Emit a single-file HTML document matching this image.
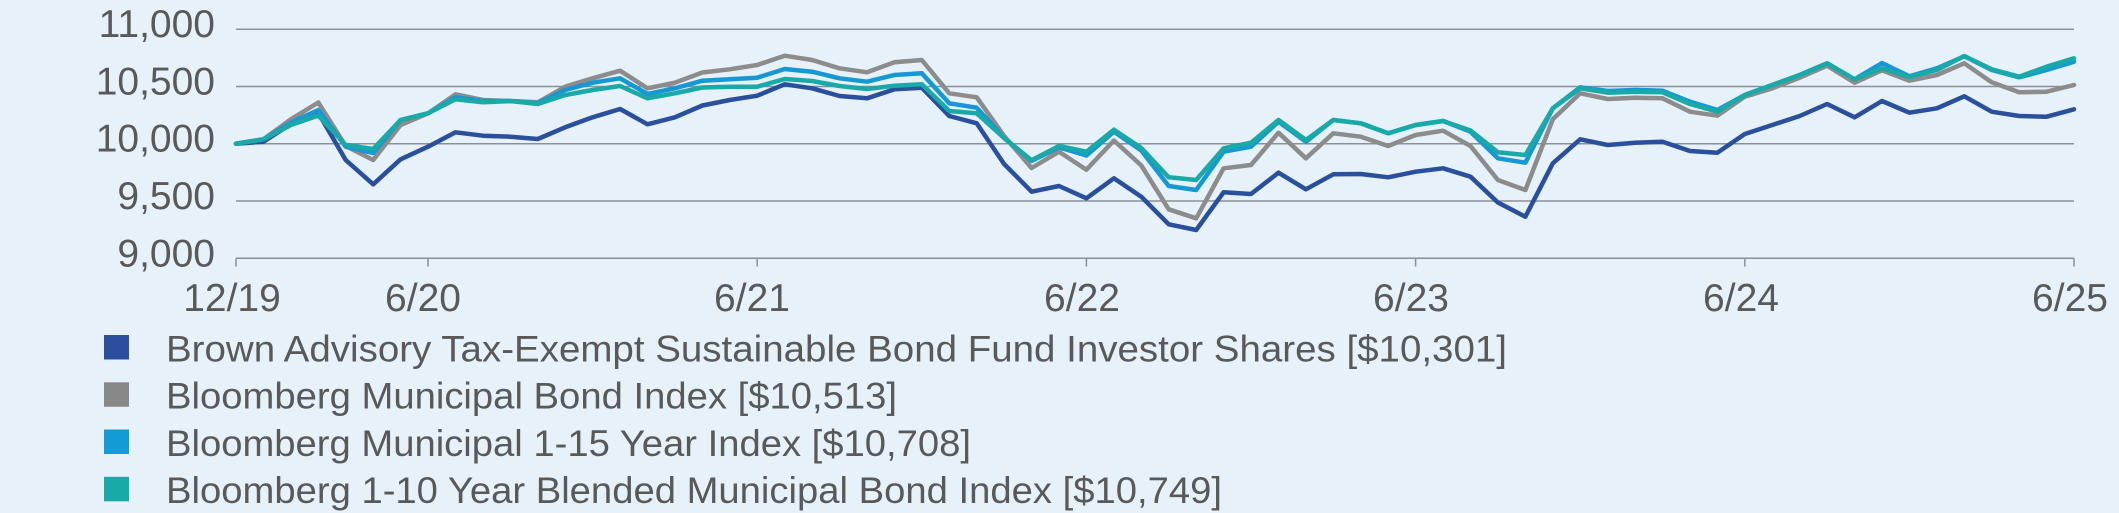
<!DOCTYPE html>
<html>
<head>
<meta charset="utf-8">
<style>
  html, body { margin: 0; padding: 0; background: #e6f1fa; }
  body { width: 2119px; height: 513px; overflow: hidden; }
  svg { display: block; }
  text { font-family: "Liberation Sans", "DejaVu Sans", sans-serif; fill: #595959; }
</style>
</head>
<body>
<svg width="2119" height="513" viewBox="0 0 2119 513" xmlns="http://www.w3.org/2000/svg">
  <rect x="0" y="0" width="2119" height="513" fill="#e6f1fa"/>

  <!-- gridlines -->
  <g stroke="#8a9098" stroke-width="1.5" fill="none">
    <line x1="236" y1="29.3" x2="2074" y2="29.3"/>
    <line x1="236" y1="86.5" x2="2074" y2="86.5"/>
    <line x1="236" y1="143.7" x2="2074" y2="143.7"/>
    <line x1="236" y1="201" x2="2074" y2="201"/>
    <line x1="236" y1="258.3" x2="2074" y2="258.3"/>
    <!-- ticks -->
    <line x1="236" y1="258.3" x2="236" y2="266.5"/>
    <line x1="428" y1="258.3" x2="428" y2="266.5"/>
    <line x1="757.2" y1="258.3" x2="757.2" y2="266.5"/>
    <line x1="1086.4" y1="258.3" x2="1086.4" y2="266.5"/>
    <line x1="1415.6" y1="258.3" x2="1415.6" y2="266.5"/>
    <line x1="1744.8" y1="258.3" x2="1744.8" y2="266.5"/>
    <line x1="2074" y1="258.3" x2="2074" y2="266.5"/>
  </g>

  <!-- y labels -->
  <g font-size="39" text-anchor="end">
    <text x="215" y="37">11,000</text>
    <text x="215" y="94.5">10,500</text>
    <text x="215" y="151.7">10,000</text>
    <text x="215" y="209">9,500</text>
    <text x="215" y="266.5">9,000</text>
  </g>

  <!-- x labels -->
  <g font-size="39" text-anchor="middle">
    <text x="232" y="311">12/19</text>
    <text x="423" y="311">6/20</text>
    <text x="752" y="311">6/21</text>
    <text x="1082" y="311">6/22</text>
    <text x="1411" y="311">6/23</text>
    <text x="1741" y="311">6/24</text>
    <text x="2070" y="311">6/25</text>
  </g>

  <g fill="none" stroke-width="4.5" stroke-linejoin="round" stroke-linecap="round">
    <!-- Navy: Brown Advisory -->
    <polyline stroke="#2a4f9c" points="236,143.7 263.4,141.7 290.9,124 318.3,113 345.7,160 373.2,184.3 400.6,159.3 428,146.7 455.5,132.3 482.9,135.7 510.3,136.7 537.8,139 565.2,127.3 592.6,117.3 620.1,109 647.5,124.3 674.9,117.3 702.4,105.5 729.8,100 757.2,95.7 784.7,84.3 812.1,88.3 839.5,96 867,98.3 894.4,89.3 921.8,87.7 949.3,116 976.7,123.3 1004.1,164 1031.6,191.7 1059,186 1086.4,198.3 1113.9,178.3 1141.3,196.7 1168.7,224.3 1196.2,230 1223.6,192.3 1251,194 1278.5,172.7 1305.9,189.3 1333.3,174.3 1360.8,174 1388.2,177.3 1415.6,171.7 1443.1,168.3 1470.5,176.7 1497.9,202.5 1525.4,216.7 1552.8,163.3 1580.2,139.3 1607.7,145 1635.1,142.7 1662.5,141.7 1690,151 1717.4,152.7 1744.8,134 1772.3,125 1799.7,116 1827.1,104 1854.6,117.3 1882,101 1909.4,112.7 1936.9,108.3 1964.3,96.3 1991.7,111.7 2019.2,116 2046.6,116.7 2074,109.3"/>
    <!-- Gray: Bloomberg Municipal Bond Index -->
    <polyline stroke="#8c8c8c" points="236,143.7 263.4,139.3 290.9,119.3 318.3,102.5 345.7,146 373.2,160 400.6,125 428,113.3 455.5,94.3 482.9,100 510.3,101 537.8,102.3 565.2,86.7 592.6,78.3 620.1,70.7 647.5,88.3 674.9,82.7 702.4,72.5 729.8,69.3 757.2,65 784.7,55.7 812.1,60 839.5,68.3 867,72.3 894.4,62.3 921.8,60 949.3,93.3 976.7,97.3 1004.1,136 1031.6,168 1059,151.7 1086.4,169.7 1113.9,140.5 1141.3,165.5 1168.7,209.3 1196.2,218.3 1223.6,168.3 1251,165 1278.5,132.7 1305.9,158.3 1333.3,133.3 1360.8,136.7 1388.2,146 1415.6,135 1443.1,130.7 1470.5,146 1497.9,180 1525.4,190 1552.8,119.3 1580.2,93.3 1607.7,99 1635.1,97.7 1662.5,98.3 1690,111.7 1717.4,115.7 1744.8,96.7 1772.3,88.3 1799.7,77.7 1827.1,65.7 1854.6,82.7 1882,70.3 1909.4,80.7 1936.9,75 1964.3,63.3 1991.7,82.3 2019.2,92.3 2046.6,91.7 2074,85"/>
    <!-- Blue: Bloomberg Municipal 1-15 Year -->
    <polyline stroke="#1598d4" points="236,143.7 263.4,139.3 290.9,122.7 318.3,110 345.7,146.7 373.2,153 400.6,120 428,113.3 455.5,97.3 482.9,101 510.3,101 537.8,103.3 565.2,90 592.6,82.7 620.1,78.3 647.5,94 674.9,88.3 702.4,80.7 729.8,79.3 757.2,77.7 784.7,69 812.1,71.7 839.5,78.3 867,81.7 894.4,75 921.8,73.3 949.3,103.3 976.7,107.7 1004.1,138 1031.6,161 1059,147.3 1086.4,155.5 1113.9,131.7 1141.3,150.5 1168.7,186 1196.2,190 1223.6,151.7 1251,146.7 1278.5,121.7 1305.9,141.7 1333.3,120 1360.8,123.3 1388.2,133.3 1415.6,125 1443.1,121 1470.5,131.7 1497.9,158.3 1525.4,162.7 1552.8,108.3 1580.2,87.3 1607.7,91 1635.1,90 1662.5,90.7 1690,101.7 1717.4,110 1744.8,95 1772.3,85 1799.7,75 1827.1,63.3 1854.6,79.3 1882,63 1909.4,76.3 1936.9,68.3 1964.3,56.3 1991.7,70 2019.2,77.3 2046.6,70 2074,61.7"/>
    <!-- Teal: Bloomberg 1-10 Year Blended -->
    <polyline stroke="#19aaa8" points="236,143.7 263.4,139.3 290.9,125 318.3,115.5 345.7,145 373.2,149 400.6,120 428,113.3 455.5,99.3 482.9,102.3 510.3,101 537.8,104 565.2,95 592.6,90 620.1,86 647.5,98.3 674.9,93.3 702.4,87.5 729.8,86.7 757.2,86.7 784.7,79 812.1,81 839.5,86 867,89 894.4,85.7 921.8,84.3 949.3,111 976.7,113.3 1004.1,138 1031.6,160.3 1059,146 1086.4,151.7 1113.9,129.7 1141.3,148 1168.7,177.3 1196.2,180 1223.6,148.3 1251,142.7 1278.5,120 1305.9,140 1333.3,120 1360.8,123.3 1388.2,133.3 1415.6,125 1443.1,121 1470.5,130.5 1497.9,152.3 1525.4,155 1552.8,108.3 1580.2,88.3 1607.7,92.7 1635.1,91.7 1662.5,92.3 1690,104 1717.4,111.7 1744.8,95 1772.3,85 1799.7,75 1827.1,63.3 1854.6,79.3 1882,68.3 1909.4,77 1936.9,70 1964.3,56 1991.7,69.3 2019.2,76.7 2046.6,66.7 2074,58.3"/>
  </g>

  <!-- legend -->
  <rect x="104" y="335" width="25" height="24.5" fill="#2c4e9f"/>
  <rect x="104" y="382.3" width="25" height="24.5" fill="#878787"/>
  <rect x="104" y="429.5" width="25" height="24.5" fill="#129bd5"/>
  <rect x="104" y="476.8" width="25" height="24.5" fill="#17aaa9"/>
  <g font-size="37">
    <text x="166" y="361.5" textLength="1341" lengthAdjust="spacingAndGlyphs">Brown Advisory Tax-Exempt Sustainable Bond Fund Investor Shares [$10,301]</text>
    <text x="166" y="408.7" textLength="731" lengthAdjust="spacingAndGlyphs">Bloomberg Municipal Bond Index [$10,513]</text>
    <text x="166" y="456" textLength="805" lengthAdjust="spacingAndGlyphs">Bloomberg Municipal 1-15 Year Index [$10,708]</text>
    <text x="166" y="503.2" textLength="1056" lengthAdjust="spacingAndGlyphs">Bloomberg 1-10 Year Blended Municipal Bond Index [$10,749]</text>
  </g>
</svg>
</body>
</html>
